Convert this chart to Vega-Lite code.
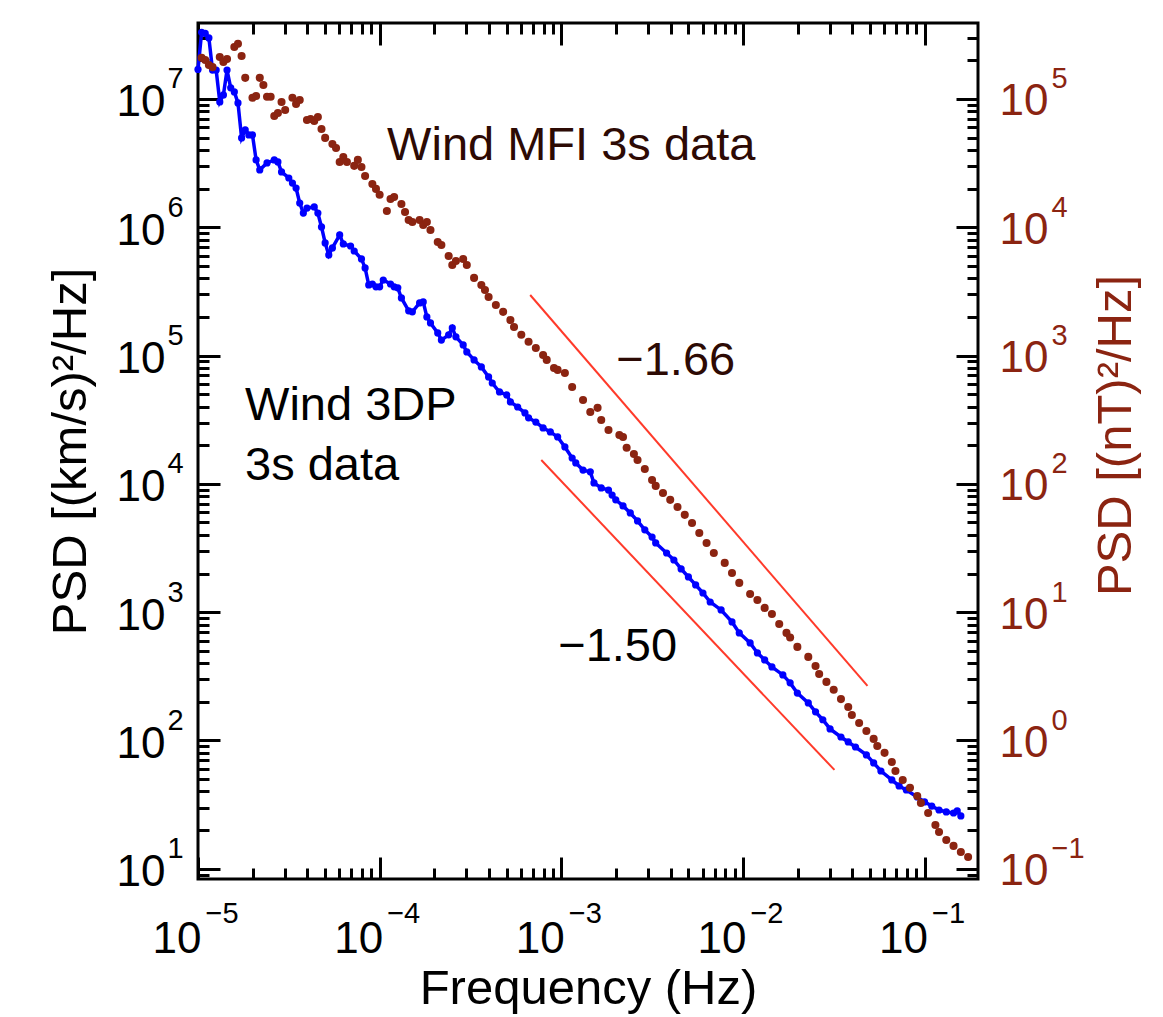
{
  "$schema": "https://vega.github.io/schema/vega-lite/v6.json",
  "autosize": {"type": "none"},
  "padding": {"left": 198, "top": 23, "right": 185, "bottom": 138},
  "width": 780,
  "height": 856,
  "background": "white",
  "config": {
    "font": "Liberation Sans",
    "view": {"stroke": "#000000", "strokeWidth": 3},
    "axis": {
      "grid": false,
      "domain": false,
      "tickColor": "#000000",
      "tickWidth": 3,
      "labelFont": "Liberation Sans",
      "labelFontSize": 44,
      "labelColor": "#000000",
      "labelFlush": false,
      "labelOverlap": false,
      "labelBound": false,
      "titleFont": "Liberation Sans",
      "titleFontSize": 49,
      "titleFontWeight": "normal",
      "titleColor": "#000000"
    }
  },
  "datasets": {
    "blue": [
      {"f": 1.000e-5, "p": 1.70e7}, {"f": 1.047e-5, "p": 3.31e7}, {"f": 1.096e-5, "p": 3.24e7}, {"f": 1.148e-5, "p": 2.99e7},
      {"f": 1.202e-5, "p": 1.68e7}, {"f": 1.259e-5, "p": 1.68e7}, {"f": 1.318e-5, "p": 9.48e6}, {"f": 1.380e-5, "p": 1.074e7},
      {"f": 1.445e-5, "p": 1.68e7}, {"f": 1.514e-5, "p": 1.22e7}, {"f": 1.585e-5, "p": 1.135e7}, {"f": 1.660e-5, "p": 9.31e6},
      {"f": 1.738e-5, "p": 4.97e6}, {"f": 1.820e-5, "p": 5.73e6}, {"f": 1.905e-5, "p": 5.24e6}, {"f": 1.995e-5, "p": 5.24e6},
      {"f": 2.089e-5, "p": 3.35e6}, {"f": 2.188e-5, "p": 2.80e6}, {"f": 2.399e-5, "p": 3.17e6}, {"f": 2.630e-5, "p": 3.35e6},
      {"f": 2.754e-5, "p": 3.23e6}, {"f": 2.884e-5, "p": 2.70e6}, {"f": 3.162e-5, "p": 2.42e6}, {"f": 3.311e-5, "p": 2.21e6},
      {"f": 3.467e-5, "p": 2.02e6}, {"f": 3.631e-5, "p": 1.545e6}, {"f": 3.802e-5, "p": 1.29e6}, {"f": 3.981e-5, "p": 1.41e6},
      {"f": 4.365e-5, "p": 1.44e6}, {"f": 4.571e-5, "p": 1.29e6}, {"f": 4.786e-5, "p": 1.005e6}, {"f": 5.012e-5, "p": 7.55e5},
      {"f": 5.248e-5, "p": 6.08e5}, {"f": 5.495e-5, "p": 6.90e5}, {"f": 6.026e-5, "p": 8.71e5}, {"f": 6.310e-5, "p": 7.41e5},
      {"f": 6.918e-5, "p": 7.14e5}, {"f": 7.244e-5, "p": 6.53e5}, {"f": 7.943e-5, "p": 5.66e5}, {"f": 8.318e-5, "p": 4.82e5},
      {"f": 8.710e-5, "p": 3.55e5}, {"f": 9.120e-5, "p": 3.61e5}, {"f": 9.550e-5, "p": 3.43e5}, {"f": 1.000e-4, "p": 3.43e5},
      {"f": 1.047e-4, "p": 3.88e5}, {"f": 1.148e-4, "p": 3.61e5}, {"f": 1.202e-4, "p": 3.43e5}, {"f": 1.259e-4, "p": 3.37e5},
      {"f": 1.318e-4, "p": 2.81e5}, {"f": 1.445e-4, "p": 2.23e5}, {"f": 1.514e-4, "p": 2.19e5}, {"f": 1.660e-4, "p": 2.57e5},
      {"f": 1.738e-4, "p": 2.62e5}, {"f": 1.820e-4, "p": 2.00e5}, {"f": 1.905e-4, "p": 1.795e5}, {"f": 2.089e-4, "p": 1.50e5},
      {"f": 2.188e-4, "p": 1.32e5}, {"f": 2.399e-4, "p": 1.45e5}, {"f": 2.512e-4, "p": 1.64e5}, {"f": 2.630e-4, "p": 1.40e5},
      {"f": 2.884e-4, "p": 1.21e5}, {"f": 3.020e-4, "p": 1.067e5}, {"f": 3.311e-4, "p": 9.25e4}, {"f": 3.631e-4, "p": 8.15e4},
      {"f": 3.981e-4, "p": 6.81e4}, {"f": 4.169e-4, "p": 6.11e4}, {"f": 4.571e-4, "p": 5.20e4}, {"f": 5.012e-4, "p": 4.93e4},
      {"f": 5.248e-4, "p": 4.35e4}, {"f": 5.754e-4, "p": 3.97e4}, {"f": 6.310e-4, "p": 3.57e4}, {"f": 6.607e-4, "p": 3.27e4},
      {"f": 7.244e-4, "p": 3.03e4}, {"f": 7.943e-4, "p": 2.73e4}, {"f": 8.710e-4, "p": 2.54e4}, {"f": 9.550e-4, "p": 2.32e4},
      {"f": 1.047e-3, "p": 1.94e4}, {"f": 1.148e-3, "p": 1.59e4}, {"f": 1.202e-3, "p": 1.455e4}, {"f": 1.318e-3, "p": 1.28e4},
      {"f": 1.445e-3, "p": 1.24e4}, {"f": 1.514e-3, "p": 1.016e4}, {"f": 1.660e-3, "p": 9290}, {"f": 1.820e-3, "p": 8950},
      {"f": 1.905e-3, "p": 8180}, {"f": 1.995e-3, "p": 7500}, {"f": 2.188e-3, "p": 6730}, {"f": 2.399e-3, "p": 5930},
      {"f": 2.630e-3, "p": 5140}, {"f": 2.884e-3, "p": 4380}, {"f": 3.162e-3, "p": 3850}, {"f": 3.311e-3, "p": 3460},
      {"f": 3.802e-3, "p": 2890}, {"f": 4.169e-3, "p": 2550}, {"f": 4.571e-3, "p": 2170}, {"f": 5.012e-3, "p": 1880},
      {"f": 5.495e-3, "p": 1630}, {"f": 6.026e-3, "p": 1410}, {"f": 6.607e-3, "p": 1200}, {"f": 7.586e-3, "p": 1040},
      {"f": 8.710e-3, "p": 839}, {"f": 9.550e-3, "p": 689}, {"f": 1.096e-2, "p": 575}, {"f": 1.202e-2, "p": 481},
      {"f": 1.318e-2, "p": 424}, {"f": 1.445e-2, "p": 374}, {"f": 1.660e-2, "p": 324}, {"f": 1.820e-2, "p": 281},
      {"f": 1.995e-2, "p": 234}, {"f": 2.291e-2, "p": 196}, {"f": 2.512e-2, "p": 167}, {"f": 2.754e-2, "p": 145},
      {"f": 3.020e-2, "p": 123}, {"f": 3.467e-2, "p": 106.4}, {"f": 3.802e-2, "p": 97.3}, {"f": 4.169e-2, "p": 88.9},
      {"f": 4.786e-2, "p": 77.1}, {"f": 5.248e-2, "p": 66.8}, {"f": 5.754e-2, "p": 57.8}, {"f": 6.607e-2, "p": 49.2},
      {"f": 7.244e-2, "p": 44.2}, {"f": 7.943e-2, "p": 41.1}, {"f": 9.120e-2, "p": 36.3}, {"f": 0.1000, "p": 33.2},
      {"f": 0.1096, "p": 30.8}, {"f": 0.1202, "p": 28.7}, {"f": 0.1318, "p": 27.7}, {"f": 0.1445, "p": 27.2},
      {"f": 0.1514, "p": 28.2}, {"f": 0.1585, "p": 25.8}
    ],
    "brown": [
      {"f": 1.047e-5, "b": 2.09e5}, {"f": 1.096e-5, "b": 2.01e5}, {"f": 1.148e-5, "b": 1.84e5}, {"f": 1.202e-5, "b": 1.77e5},
      {"f": 1.318e-5, "b": 2.12e5}, {"f": 1.380e-5, "b": 1.94e5}, {"f": 1.445e-5, "b": 2.05e5}, {"f": 1.585e-5, "b": 2.54e5},
      {"f": 1.660e-5, "b": 2.69e5}, {"f": 1.738e-5, "b": 2.16e5}, {"f": 1.820e-5, "b": 1.46e5}, {"f": 1.995e-5, "b": 1.02e5},
      {"f": 2.089e-5, "b": 1.055e5}, {"f": 2.188e-5, "b": 1.46e5}, {"f": 2.291e-5, "b": 1.285e5}, {"f": 2.399e-5, "b": 1.04e5},
      {"f": 2.512e-5, "b": 1.04e5}, {"f": 2.630e-5, "b": 7.36e4}, {"f": 2.754e-5, "b": 7.78e4}, {"f": 2.884e-5, "b": 9.48e4},
      {"f": 3.020e-5, "b": 8.20e4}, {"f": 3.311e-5, "b": 1.02e5}, {"f": 3.467e-5, "b": 9.14e4}, {"f": 3.631e-5, "b": 9.82e4},
      {"f": 3.981e-5, "b": 6.85e4}, {"f": 4.169e-5, "b": 6.98e4}, {"f": 4.365e-5, "b": 6.74e4}, {"f": 4.571e-5, "b": 7.24e4},
      {"f": 4.786e-5, "b": 5.83e4}, {"f": 5.012e-5, "b": 4.97e4}, {"f": 5.495e-5, "b": 4.46e4}, {"f": 5.754e-5, "b": 4.15e4},
      {"f": 6.026e-5, "b": 3.23e4}, {"f": 6.310e-5, "b": 3.53e4}, {"f": 6.607e-5, "b": 3.23e4}, {"f": 7.244e-5, "b": 3.01e4},
      {"f": 7.586e-5, "b": 3.35e4}, {"f": 7.943e-5, "b": 2.95e4}, {"f": 8.318e-5, "b": 2.51e4}, {"f": 9.120e-5, "b": 2.17e4},
      {"f": 9.550e-5, "b": 1.99e4}, {"f": 1.000e-4, "b": 1.79e4}, {"f": 1.096e-4, "b": 1.34e4}, {"f": 1.148e-4, "b": 1.66e4},
      {"f": 1.202e-4, "b": 1.72e4}, {"f": 1.318e-4, "b": 1.52e4}, {"f": 1.380e-4, "b": 1.315e4}, {"f": 1.445e-4, "b": 1.14e4},
      {"f": 1.514e-4, "b": 1.10e4}, {"f": 1.660e-4, "b": 1.14e4}, {"f": 1.738e-4, "b": 1.04e4}, {"f": 1.820e-4, "b": 1.10e4},
      {"f": 1.905e-4, "b": 9530}, {"f": 2.089e-4, "b": 7670}, {"f": 2.188e-4, "b": 7280}, {"f": 2.399e-4, "b": 5970},
      {"f": 2.512e-4, "b": 5080}, {"f": 2.630e-4, "b": 5460}, {"f": 2.884e-4, "b": 5660}, {"f": 3.020e-4, "b": 5080},
      {"f": 3.311e-4, "b": 4030}, {"f": 3.631e-4, "b": 3550}, {"f": 3.802e-4, "b": 3240}, {"f": 3.981e-4, "b": 2860},
      {"f": 4.365e-4, "b": 2480}, {"f": 4.786e-4, "b": 2190}, {"f": 5.248e-4, "b": 1890}, {"f": 5.495e-4, "b": 1670},
      {"f": 6.026e-4, "b": 1450}, {"f": 6.607e-4, "b": 1280}, {"f": 7.244e-4, "b": 1146}, {"f": 7.943e-4, "b": 1010},
      {"f": 8.318e-4, "b": 925}, {"f": 9.120e-4, "b": 800}, {"f": 9.550e-4, "b": 773}, {"f": 1.047e-3, "b": 731},
      {"f": 1.148e-3, "b": 569}, {"f": 1.318e-3, "b": 451}, {"f": 1.445e-3, "b": 363}, {"f": 1.585e-3, "b": 391},
      {"f": 1.660e-3, "b": 315}, {"f": 1.820e-3, "b": 263}, {"f": 2.089e-3, "b": 240}, {"f": 2.188e-3, "b": 232},
      {"f": 2.291e-3, "b": 191}, {"f": 2.512e-3, "b": 171}, {"f": 2.630e-3, "b": 153.5}, {"f": 2.884e-3, "b": 130.6},
      {"f": 3.162e-3, "b": 107.2}, {"f": 3.311e-3, "b": 96.4}, {"f": 3.631e-3, "b": 84.9}, {"f": 3.981e-3, "b": 75.0},
      {"f": 4.365e-3, "b": 66.1}, {"f": 4.786e-3, "b": 57.3}, {"f": 5.248e-3, "b": 49.5}, {"f": 5.754e-3, "b": 41.4},
      {"f": 6.310e-3, "b": 34.6}, {"f": 6.918e-3, "b": 28.9}, {"f": 7.943e-3, "b": 24.2}, {"f": 8.710e-3, "b": 20.2},
      {"f": 9.550e-3, "b": 16.9}, {"f": 1.096e-2, "b": 13.87}, {"f": 1.202e-2, "b": 12.45}, {"f": 1.318e-2, "b": 10.79},
      {"f": 1.445e-2, "b": 9.68}, {"f": 1.585e-2, "b": 8.09}, {"f": 1.738e-2, "b": 6.89}, {"f": 1.820e-2, "b": 6.35},
      {"f": 1.995e-2, "b": 5.36}, {"f": 2.291e-2, "b": 4.48}, {"f": 2.512e-2, "b": 3.81}, {"f": 2.630e-2, "b": 3.30},
      {"f": 2.884e-2, "b": 2.86}, {"f": 3.162e-2, "b": 2.48}, {"f": 3.467e-2, "b": 2.10}, {"f": 3.802e-2, "b": 1.82},
      {"f": 3.981e-2, "b": 1.58}, {"f": 4.365e-2, "b": 1.368}, {"f": 4.786e-2, "b": 1.186}, {"f": 5.248e-2, "b": 1.028},
      {"f": 5.495e-2, "b": 0.906}, {"f": 6.026e-2, "b": 0.80}, {"f": 6.607e-2, "b": 0.679}, {"f": 6.918e-2, "b": 0.578},
      {"f": 7.586e-2, "b": 0.492}, {"f": 8.318e-2, "b": 0.427}, {"f": 9.120e-2, "b": 0.369}, {"f": 9.550e-2, "b": 0.326},
      {"f": 0.1047, "b": 0.272}, {"f": 0.1148, "b": 0.219}, {"f": 0.1202, "b": 0.1936}, {"f": 0.1318, "b": 0.1675},
      {"f": 0.1445, "b": 0.1507}, {"f": 0.1585, "b": 0.1352}, {"f": 0.1738, "b": 0.1236}
    ],
    "fits": [
      {"seg": "B", "f": 6.745e-4, "p": 2.965e5},
      {"seg": "B", "f": 0.04853, "p": 266},
      {"seg": "V", "f": 7.762e-4, "p": 1.535e4},
      {"seg": "V", "f": 0.03192, "p": 58.9}
    ],
    "txtBlack": [
      {"f": 1.815e-5, "p": 3.15e4, "t": "Wind 3DP"},
      {"f": 1.815e-5, "p": 1.072e4, "t": "3s data"},
      {"f": 9.62e-4, "p": 415, "t": "−1.50"}
    ],
    "txtMFI": [
      {"f": 1.099e-4, "p": 3.35e6, "t": "Wind MFI 3s data"}
    ],
    "txtSlope": [
      {"f": 2.009e-3, "p": 7.06e4, "t": "−1.66"}
    ]
  },
  "layer": [
    {
      "data": {"name": "blue"},
      "mark": {"type": "line", "color": "#0000ff", "strokeWidth": 3.5, "point": {"filled": true, "size": 52, "color": "#0000ff"}},
      "encoding": {
        "x": {"field": "f", "type": "quantitative", "scale": {"type": "log", "domain": [1e-5, 0.197], "nice": false},
          "axis": {"orient": "bottom", "values": [1e-5, 1e-4, 1e-3, 1e-2, 1e-1], "tickSize": -22,
            "labelExpr": "'10'", "labelPadding": 95, "labelBaseline": "alphabetic", "labelAlign": "right", "labelOffset": 3,
            "title": "Frequency (Hz)", "titleX": 390, "titleY": 124, "titleBaseline": "alphabetic", "titleAlign": "center"}},
        "y": {"field": "p", "type": "quantitative", "scale": {"type": "log", "domain": [8.318, 3.908e7], "nice": false},
          "axis": {"orient": "left", "values": [10, 100, 1000, 10000, 100000, 1000000, 10000000], "tickSize": -22,
            "labelExpr": "'10'", "labelPadding": 55, "labelBaseline": "middle", "labelAlign": "right", "labelOffset": 4,
            "title": "PSD [(km/s)²/Hz]", "titleAngle": 270, "titleX": -113, "titleY": 428, "titleBaseline": "alphabetic", "titleAlign": "center"}}
      }
    },
    {
      "data": {"name": "brown"},
      "mark": {"type": "point", "filled": true, "size": 65, "color": "#8b2411", "opacity": 1},
      "encoding": {
        "x": {"field": "f", "type": "quantitative", "scale": {"type": "log", "domain": [1e-5, 0.197], "nice": false},
          "axis": {"orient": "top", "values": [1e-5, 1e-4, 1e-3, 1e-2, 1e-1], "tickSize": -22, "labels": false, "title": null}},
        "y": {"field": "b", "type": "quantitative", "scale": {"type": "log", "domain": [0.08318, 3.908e5], "nice": false},
          "axis": {"orient": "right", "values": [0.1, 1, 10, 100, 1000, 10000, 100000], "tickSize": -22,
            "labelExpr": "'10'", "labelPadding": 43, "labelBaseline": "middle", "labelAlign": "left", "labelColor": "#8b2411", "labelOffset": 3,
            "title": "PSD [(nT)²/Hz]", "titleColor": "#8b2411", "titleAngle": 270, "titleX": 152, "titleY": 412, "titleBaseline": "alphabetic", "titleAlign": "center"}}
      }
    },
    {
      "data": {"name": "fits"},
      "mark": {"type": "line", "color": "#ff3a2a", "strokeWidth": 2},
      "encoding": {
        "detail": {"field": "seg", "type": "nominal"},
        "x": {"field": "f", "type": "quantitative", "scale": {"type": "log", "domain": [1e-5, 0.197], "nice": false},
          "axis": {"orient": "bottom", "tickSize": -11, "labels": false, "title": null,
            "values": [2e-5, 3e-5, 4e-5, 5e-5, 6e-5, 7e-5, 8e-5, 9e-5, 2e-4, 3e-4, 4e-4, 5e-4, 6e-4, 7e-4, 8e-4, 9e-4, 0.002, 0.003, 0.004, 0.005, 0.006, 0.007, 0.008, 0.009, 0.02, 0.03, 0.04, 0.05, 0.06, 0.07, 0.08, 0.09]}},
        "y": {"field": "p", "type": "quantitative", "scale": {"type": "log", "domain": [8.318, 3.908e7], "nice": false},
          "axis": {"orient": "left", "tickSize": -11, "labels": false, "title": null,
            "values": [9, 20, 30, 40, 50, 60, 70, 80, 90, 200, 300, 400, 500, 600, 700, 800, 900, 2000, 3000, 4000, 5000, 6000, 7000, 8000, 9000, 20000, 30000, 40000, 50000, 60000, 70000, 80000, 90000, 200000, 300000, 400000, 500000, 600000, 700000, 800000, 900000, 2000000, 3000000, 4000000, 5000000, 6000000, 7000000, 8000000, 9000000, 20000000, 30000000]}}
      }
    },
    {
      "data": {"name": "txtBlack"},
      "mark": {"type": "text", "align": "left", "baseline": "alphabetic", "font": "Liberation Sans", "fontSize": 47, "color": "#000000"},
      "encoding": {
        "text": {"field": "t", "type": "nominal"},
        "x": {"field": "f", "type": "quantitative", "scale": {"type": "log", "domain": [1e-5, 0.197], "nice": false},
          "axis": {"orient": "top", "tickSize": -11, "labels": false, "title": null,
            "values": [2e-5, 3e-5, 4e-5, 5e-5, 6e-5, 7e-5, 8e-5, 9e-5, 2e-4, 3e-4, 4e-4, 5e-4, 6e-4, 7e-4, 8e-4, 9e-4, 0.002, 0.003, 0.004, 0.005, 0.006, 0.007, 0.008, 0.009, 0.02, 0.03, 0.04, 0.05, 0.06, 0.07, 0.08, 0.09]}},
        "y": {"field": "p", "type": "quantitative", "scale": {"type": "log", "domain": [8.318, 3.908e7], "nice": false},
          "axis": {"orient": "right", "tickSize": -11, "labels": false, "title": null,
            "values": [9, 20, 30, 40, 50, 60, 70, 80, 90, 200, 300, 400, 500, 600, 700, 800, 900, 2000, 3000, 4000, 5000, 6000, 7000, 8000, 9000, 20000, 30000, 40000, 50000, 60000, 70000, 80000, 90000, 200000, 300000, 400000, 500000, 600000, 700000, 800000, 900000, 2000000, 3000000, 4000000, 5000000, 6000000, 7000000, 8000000, 9000000, 20000000, 30000000]}}
      }
    },
    {
      "data": {"name": "txtMFI"},
      "mark": {"type": "text", "align": "left", "baseline": "alphabetic", "font": "Liberation Sans", "fontSize": 47, "color": "#2d0a04"},
      "encoding": {
        "text": {"field": "t", "type": "nominal"},
        "x": {"field": "f", "type": "quantitative", "scale": {"type": "log", "domain": [1e-5, 0.197], "nice": false},
          "axis": {"orient": "bottom", "values": [1e-5, 1e-4, 1e-3, 1e-2, 1e-1], "ticks": false, "tickSize": 0,
            "labelExpr": "(datum.value < 0.5 ? '−' : '') + abs(round(log(datum.value)/LN10))",
            "labelFontSize": 29, "labelPadding": 43, "labelBaseline": "alphabetic", "labelAlign": "left", "labelOffset": 7, "title": null}},
        "y": {"field": "p", "type": "quantitative", "scale": {"type": "log", "domain": [8.318, 3.908e7], "nice": false},
          "axis": {"orient": "left", "values": [10, 100, 1000, 10000, 100000, 1000000, 10000000], "ticks": false, "tickSize": 0,
            "labelExpr": "(datum.value < 0.5 ? '−' : '') + abs(round(log(datum.value)/LN10))",
            "labelFontSize": 29, "labelPadding": 31, "labelBaseline": "middle", "labelAlign": "left", "labelOffset": -20, "title": null}}
      }
    },
    {
      "data": {"name": "txtSlope"},
      "mark": {"type": "text", "align": "left", "baseline": "alphabetic", "font": "Liberation Sans", "fontSize": 47, "color": "#2d0a04"},
      "encoding": {
        "text": {"field": "t", "type": "nominal"},
        "x": {"field": "f", "type": "quantitative", "scale": {"type": "log", "domain": [1e-5, 0.197], "nice": false}, "axis": null},
        "y": {"field": "p", "type": "quantitative", "scale": {"type": "log", "domain": [8.318, 3.908e7], "nice": false},
          "axis": {"orient": "right", "values": [10, 100, 1000, 10000, 100000, 1000000, 10000000], "ticks": false, "tickSize": 0,
            "labelExpr": "(datum.value < 50 ? '−' : '') + abs(round(log(datum.value)/LN10) - 2)",
            "labelFontSize": 29, "labelPadding": 73, "labelBaseline": "middle", "labelAlign": "left", "labelColor": "#8b2411", "labelOffset": -20, "title": null}}
      }
    }
  ],
  "resolve": {"scale": {"y": "independent"}, "axis": {"x": "independent", "y": "independent"}}
}
